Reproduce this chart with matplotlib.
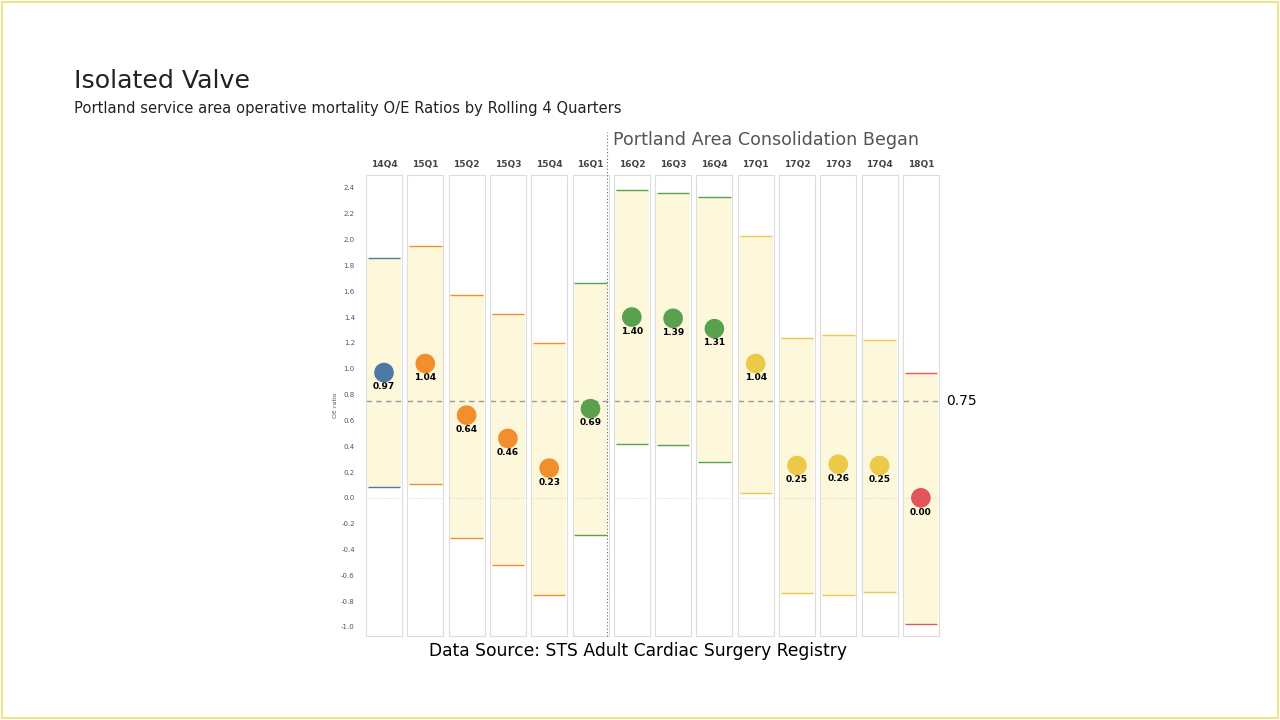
import matplotlib
matplotlib.use("Agg")
import matplotlib.pyplot as plt
from matplotlib.patches import Rectangle

quarters = ["14Q4","15Q1","15Q2","15Q3","15Q4","16Q1","16Q2","16Q3","16Q4","17Q1","17Q2","17Q3","17Q4","18Q1"]
oe = [0.97,1.04,0.64,0.46,0.23,0.69,1.40,1.39,1.31,1.04,0.25,0.26,0.25,0.00]
lower = [0.08,0.11,-0.31,-0.52,-0.75,-0.29,0.42,0.41,0.28,0.04,-0.74,-0.75,-0.73,-0.98]
upper = [1.86,1.95,1.57,1.42,1.20,1.66,2.38,2.36,2.33,2.03,1.24,1.26,1.22,0.97]
colors = ["#4e79a7","#f28e2b","#f28e2b","#f28e2b","#f28e2b","#59a14f","#59a14f","#59a14f","#59a14f",
          "#edc948","#edc948","#edc948","#edc948","#e15759"]
target = 0.75
yticks = [2.4,2.2,2.0,1.8,1.6,1.4,1.2,1.0,0.8,0.6,0.4,0.2,0.0,-0.2,-0.4,-0.6,-0.8,-1.0]

W, H = 1280, 720
fig = plt.figure(figsize=(12.8, 7.2), dpi=100)
fig.patches.append(Rectangle((2/W, 2/H), 1-4/W, 1-4/H, transform=fig.transFigure,
                             fill=False, ec="#e8e070", lw=1.2))
fig.text(74/W, 1-81/H, "Isolated Valve", fontsize=18.2, va="center", color="#222")
fig.text(74/W, 1-109/H, "Portland service area operative mortality O/E Ratios by Rolling 4 Quarters",
         fontsize=10.6, va="center", color="#222")
fig.text(613/W, 1-140/H, "Portland Area Consolidation Began", fontsize=12.6, va="center", color="#555")
fig.text(638/W, 1-651/H, "Data Source: STS Adult Cardiac Surgery Registry", fontsize=12.3, ha="center", va="center")

ymin, ymax = -1.07, 2.5
top, bot = 175, 636
stride = 41.3
for i, q in enumerate(quarters):
    x0 = 366 + i*stride
    ax = fig.add_axes([x0/W, 1-bot/H, 36/W, (bot-top)/H])
    ax.set_xlim(0, 1); ax.set_ylim(ymin, ymax)
    for s in ax.spines.values():
        s.set_color("#dddddd"); s.set_linewidth(0.8)
    ax.set_xticks([])
    ax.fill_between([0.02, 0.98], lower[i], upper[i], color="#fdf8dc", lw=0)
    ax.hlines([lower[i], upper[i]], 0.05, 0.95, color=colors[i], lw=1)
    ax.axhline(0, color="#cccccc", lw=0.6, ls=":")
    ax.axhline(target, color="#999999", lw=1, ls=(0, (4, 3)))
    ax.scatter([0.5], [oe[i]], s=200, color=colors[i], zorder=5, edgecolor="none")
    ax.text(0.5, oe[i]-0.11, f"{oe[i]:.2f}", ha="center", va="center", fontsize=6.5, fontweight="bold")
    ax.set_title(q, fontsize=6.5, fontweight="bold", color="#444", pad=6)
    if i == 0:
        ax.set_yticks(yticks)
        ax.set_yticklabels([f"{t:.1f}" for t in yticks], fontsize=5, color="#555")
        ax.tick_params(axis="y", length=0, pad=8)
        ax.set_ylabel("OE ratio", fontsize=4.5, color="#555", labelpad=2)
    else:
        ax.set_yticks([])
    if i == len(quarters)-1:
        ax.text(1.2, target, "0.75", fontsize=10, va="center", transform=ax.get_yaxis_transform())

fig.add_artist(plt.Line2D([607/W, 607/W], [1-636/H, 1-132/H], transform=fig.transFigure,
                          color="#4a6a8a", lw=0.8, ls=(0, (1, 2))))
fig.savefig("out.png", dpi=100, facecolor="white")
